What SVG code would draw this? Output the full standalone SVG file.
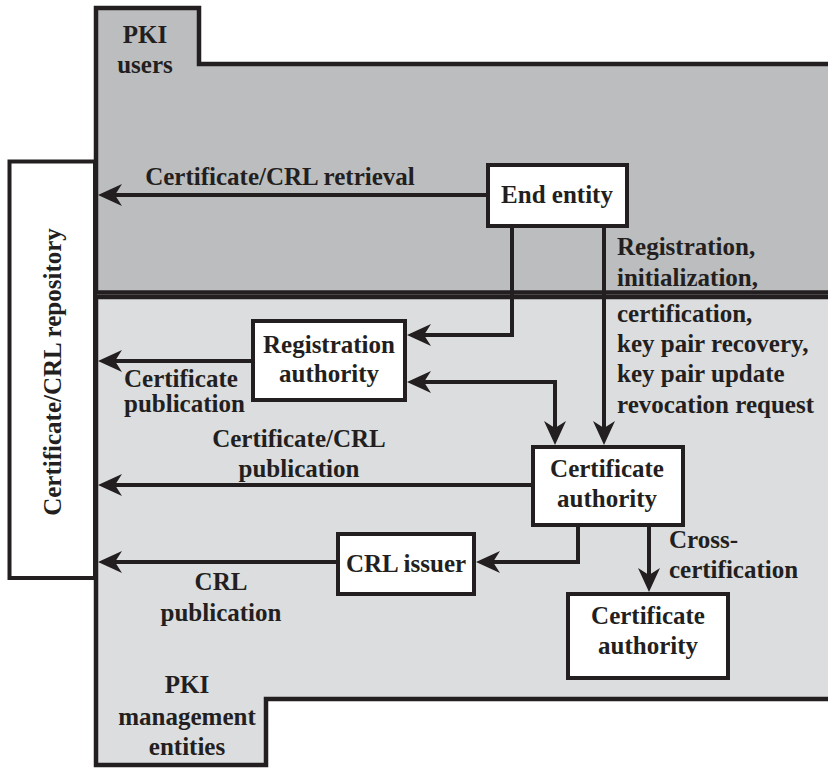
<svg xmlns="http://www.w3.org/2000/svg" width="828" height="768" viewBox="0 0 828 768">
<style>
text{font-family:"Liberation Serif","Times New Roman",serif;font-weight:bold;font-size:25px;fill:#231f20}
.box{fill:#fff;stroke:#231f20;stroke-width:4}
.region{stroke:#231f20;stroke-width:4.5;stroke-linejoin:miter}
.c{fill:none;stroke:#231f20;stroke-width:4;stroke-linejoin:miter}
.m{text-anchor:middle}
</style>
<defs>
<marker id="ah" viewBox="0 0 24 22" refX="14" refY="11" markerWidth="24" markerHeight="22" markerUnits="userSpaceOnUse" orient="auto-start-reverse">
<path d="M0,0 L24,11 L0,22 L7,11 Z" fill="#231f20"/>
</marker>
</defs>
<rect width="828" height="768" fill="#fff"/>
<g id="pki-users">
<path class="region" d="M96,8 H199 V64 H834 V292.5 H96 Z" fill="#bcbdbf"/>
<text class="m" x="145" y="43">PKI</text>
<text class="m" x="145" y="73">users</text>
</g>
<g id="pki-management">
<path class="region" d="M96,297 H834 V699 H266 V765 H96 Z" fill="#dcdddf"/>
<text class="m" x="187" y="693">PKI</text>
<text class="m" x="187" y="725">management</text>
<text class="m" x="187" y="755">entities</text>
</g>
<g id="repository">
<rect class="box" x="9.5" y="161.5" width="85.5" height="416.5"/>
<text class="m" transform="translate(61,372) rotate(-90)">Certificate/CRL repository</text>
</g>
<g id="connectors">
<path class="c" d="M486,195 H108" marker-end="url(#ah)"/>
<path class="c" d="M512,228 V335 H417" marker-end="url(#ah)"/>
<path class="c" d="M604,228 V435" marker-end="url(#ah)"/>
<path class="c" d="M417,382 H555 V435" marker-start="url(#ah)" marker-end="url(#ah)"/>
<path class="c" d="M251,361 H108" marker-end="url(#ah)"/>
<path class="c" d="M531,485 H108" marker-end="url(#ah)"/>
<path class="c" d="M578,527 V562 H486" marker-end="url(#ah)"/>
<path class="c" d="M336,562 H108" marker-end="url(#ah)"/>
<path class="c" d="M649,527 V582" marker-end="url(#ah)"/>
<text class="m" x="280" y="185">Certificate/CRL retrieval</text>
<text x="124" y="387">Certificate</text>
<text x="124" y="412">publication</text>
<text class="m" x="299" y="447">Certificate/CRL</text>
<text class="m" x="299" y="477">publication</text>
<text class="m" x="221" y="590">CRL</text>
<text class="m" x="221" y="621">publication</text>
<text x="617" y="255">Registration,</text>
<text x="617" y="286">initialization,</text>
<text x="617" y="322">certification,</text>
<text x="617" y="352">key pair recovery,</text>
<text x="617" y="382">key pair update</text>
<text x="617" y="413">revocation request</text>
<text x="669" y="548">Cross-</text>
<text x="669" y="578">certification</text>
</g>
<g id="end-entity">
<rect class="box" x="488" y="165" width="139" height="61"/>
<text class="m" x="557" y="203">End entity</text>
</g>
<g id="registration-authority">
<rect class="box" x="253" y="321" width="152" height="79"/>
<text class="m" x="329" y="353">Registration</text>
<text class="m" x="329" y="382">authority</text>
</g>
<g id="certificate-authority">
<rect class="box" x="533" y="447" width="150" height="78"/>
<text class="m" x="607" y="477">Certificate</text>
<text class="m" x="607" y="507">authority</text>
</g>
<g id="crl-issuer">
<rect class="box" x="338" y="534" width="136" height="60"/>
<text class="m" x="406" y="572">CRL issuer</text>
</g>
<g id="certificate-authority-2">
<rect class="box" x="568" y="594" width="160" height="84"/>
<text class="m" x="648" y="624">Certificate</text>
<text class="m" x="648" y="654">authority</text>
</g>
</svg>
